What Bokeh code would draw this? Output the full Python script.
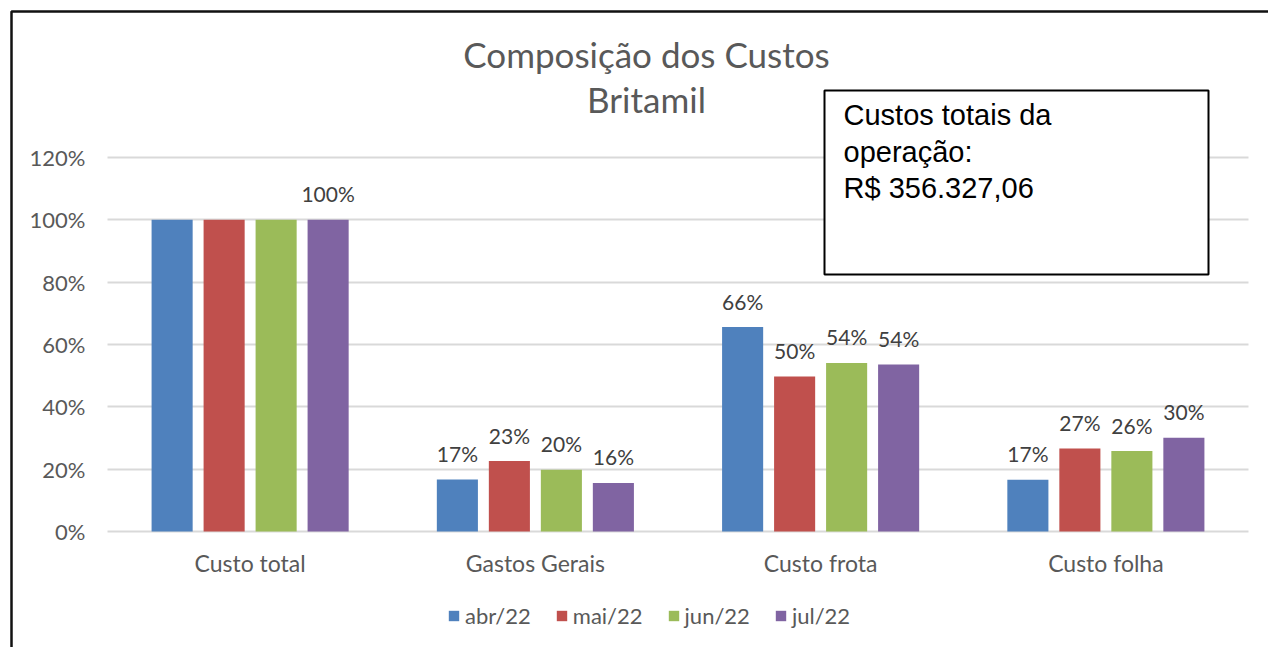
from bokeh.plotting import figure
from bokeh.models import (Range1d, FixedTicker, NumeralTickFormatter,
                          BoxAnnotation, Label, ColumnDataSource)
from bokeh.core.properties import value
from bokeh.embed import file_html
from bokeh.resources import INLINE

# ---------------- data ----------------
categories = ["Custo total", "Gastos Gerais", "Custo frota", "Custo folha"]
months = ["abr/22", "mai/22", "jun/22", "jul/22"]
abr_22 = [1.00, 0.167, 0.656, 0.166]
mai_22 = [1.00, 0.226, 0.497, 0.266]
jun_22 = [1.00, 0.198, 0.541, 0.258]
jul_22 = [1.00, 0.156, 0.536, 0.301]
series = [abr_22, mai_22, jun_22, jul_22]
y_ticks = [0, 0.2, 0.4, 0.6, 0.8, 1.0, 1.2]
title_lines = ["Composição dos Custos", "Britamil"]
note_lines = ["Custos totais da", "operação:", "R$ 356.327,06"]
# data labels that are not shown in the original (category, month)
hidden_labels = [("Custo total", "abr/22"), ("Custo total", "mai/22"), ("Custo total", "jun/22")]

# ---------------- layout / style ----------------
W, H = 1268, 647
PLOT_L, PLOT_R = 107, 1248        # plot area in pixels
PLOT_T, PLOT_B = 157, 531
Y_TOP = y_ticks[-1]
cat_px = (PLOT_R - PLOT_L) / len(categories)
y_px = (PLOT_B - PLOT_T) / Y_TOP

colors = ["#4F81BD", "#C0504D", "#9BBB59", "#8064A2"]
TXT = "#595959"
FONT = "Lato"
bar_w = 0.144
pitch = 0.1823
offsets = [(i - 1.5) * pitch for i in range(4)]
cat_x = list(range(len(categories)))

x_start = -0.5 - PLOT_L / cat_px
x_end = x_start + W / cat_px
y_start = -(H - PLOT_B) / y_px
y_end = PLOT_B / y_px

p = figure(x_range=Range1d(x_start, x_end), y_range=Range1d(y_start, y_end),
           width=W, height=H, output_backend="svg", toolbar_location=None,
           min_border=0, min_border_left=0, min_border_right=0,
           min_border_top=0, min_border_bottom=0)
p.background_fill_color = "white"
p.border_fill_color = "white"
p.outline_line_color = None

p.xgrid.visible = False
p.ygrid.ticker = FixedTicker(ticks=y_ticks)
p.ygrid.grid_line_color = "#D9D9D9"
p.ygrid.grid_line_width = 2
try:
    p.ygrid.cross_bounds = (-0.5, len(categories) - 0.5)
except AttributeError:
    p.add_layout(BoxAnnotation(right=-0.5, fill_color="white", fill_alpha=1,
                               line_color=None, level="glyph"))

p.yaxis.ticker = FixedTicker(ticks=y_ticks)
p.yaxis.formatter = NumeralTickFormatter(format="0%")
p.yaxis.fixed_location = -0.5
p.xaxis.ticker = FixedTicker(ticks=cat_x)
p.xaxis.major_label_overrides = {i: c for i, c in zip(cat_x, categories)}
p.xaxis.fixed_location = 0
for ax in (p.xaxis, p.yaxis):
    ax.axis_line_color = None
    ax.major_tick_line_color = None
    ax.minor_tick_line_color = None
    ax.major_tick_out = 0
    ax.major_tick_in = 0
    ax.major_label_text_font = FONT
    ax.major_label_text_color = TXT
p.yaxis.major_label_text_font_size = "22px"
p.xaxis.major_label_text_font_size = "23px"
p.yaxis.major_label_standoff = 22
p.xaxis.major_label_standoff = 17

for m, vals, c, off in zip(months, series, colors, offsets):
    lbls = ["" if (cat, m) in hidden_labels else f"{v:.0%}" for cat, v in zip(categories, vals)]
    xs = [x + off for x in cat_x]
    src = ColumnDataSource(dict(x=xs, val=vals, lbl=lbls))
    p.vbar(x="x", top="val", width=bar_w, source=src,
           fill_color=c, line_color=None, legend_label=m)
    p.text(x="x", y="val", text="lbl", source=src,
           text_font=value(FONT), text_font_size="21px", text_color="#404040",
           text_align="center", text_baseline="alphabetic", y_offset=-26)

leg = p.legend[0]
leg.orientation = "horizontal"
leg.location = (447, 18)
leg.label_text_font = FONT
leg.label_text_font_size = "22px"
leg.label_text_color = TXT
leg.glyph_width = 13
leg.glyph_height = 13
leg.label_standoff = 5
leg.spacing = 24
leg.padding = 0
leg.margin = 0
leg.border_line_color = None
leg.background_fill_alpha = 0

# outer chart border (only left and top edges are inside the picture)
p.add_layout(BoxAnnotation(left=11, right=W + 40, top=H - 11, bottom=-40,
                           left_units="screen", right_units="screen",
                           top_units="screen", bottom_units="screen",
                           fill_alpha=0, line_color="#111111", line_alpha=1,
                           line_width=2.5))

# title
for txt, base in zip(title_lines, [53, 98]):
    p.add_layout(Label(x=646, y=H - base, x_units="screen", y_units="screen", text=txt,
                       text_align="center", text_baseline="alphabetic",
                       text_font=FONT, text_font_size="35px", text_color=TXT))

# note box
p.add_layout(BoxAnnotation(left=824, right=1208, top=H - 90, bottom=H - 274,
                           left_units="screen", right_units="screen",
                           top_units="screen", bottom_units="screen",
                           fill_color="white", fill_alpha=1, line_color="black",
                           line_alpha=1, line_width=2))
for txt, base in zip(note_lines, [114, 151, 187]):
    p.add_layout(Label(x=843, y=H - base, x_units="screen", y_units="screen", text=txt,
                       text_align="left", text_baseline="alphabetic",
                       text_font="Liberation Sans", text_font_size="29px", text_color="black"))

open("out.html", "w").write(file_html(p, INLINE))
